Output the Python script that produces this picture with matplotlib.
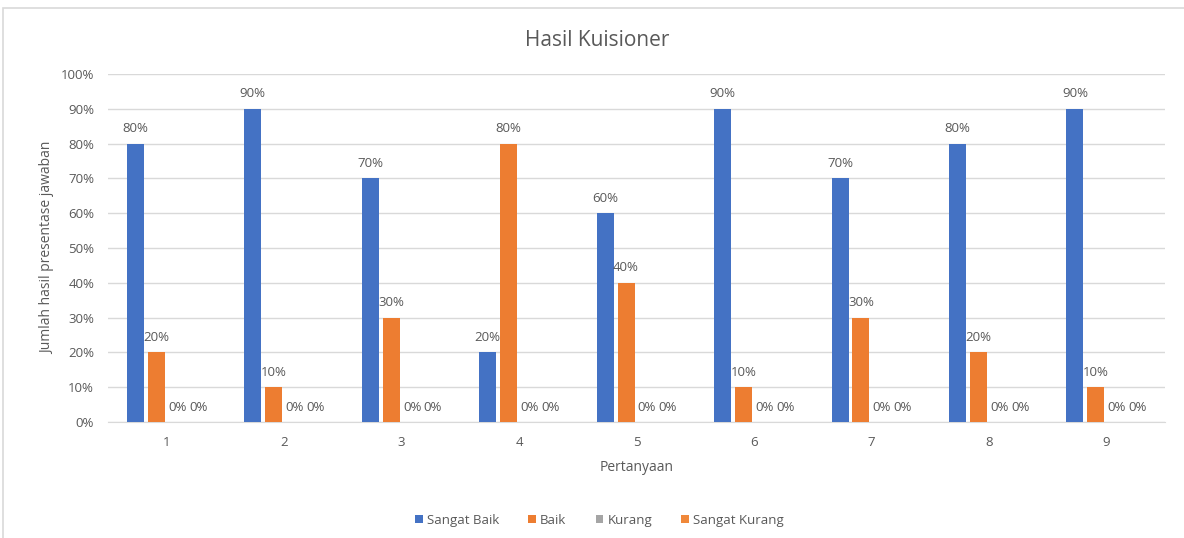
import numpy as np
import matplotlib.pyplot as plt
from matplotlib.patches import Rectangle

plt.rcParams['font.family'] = ['Open Sans', 'DejaVu Sans']

questions = ['1', '2', '3', '4', '5', '6', '7', '8', '9']
sangat_baik = [80, 90, 70, 20, 60, 90, 70, 80, 90]
baik = [20, 10, 30, 80, 40, 10, 30, 20, 10]
kurang = [0, 0, 0, 0, 0, 0, 0, 0, 0]
sangat_kurang = [0, 0, 0, 0, 0, 0, 0, 0, 0]

series = [
    ('Sangat Baik', sangat_baik, '#4472C4'),
    ('Baik', baik, '#ED7D31'),
    ('Kurang', kurang, '#A5A5A5'),
    ('Sangat Kurang', sangat_kurang, '#F0883A'),
]

txt = '#595959'
fig = plt.figure(figsize=(11.84, 5.38), dpi=100)
# chart frame
fig.patches.append(Rectangle((3 / 1184, -0.01), 1.0, 1 - 8 / 538 + 0.01,
                             transform=fig.transFigure, fill=False,
                             edgecolor='#D9D9D9', linewidth=1.2))
ax = fig.add_axes([108 / 1184, 1 - 422 / 538, (1165 - 108) / 1184, (422 - 74) / 538])

x = np.arange(len(questions))
w = 0.145
pitch = 0.178
for i, (name, vals, col) in enumerate(series):
    pos = x + (i - 1.5) * pitch
    bars = ax.bar(pos, vals, width=w, color=col, label=name, zorder=3)
    for p, v in zip(pos, vals):
        ax.annotate(f'{v}%', (p, v), xytext=(0, 6), textcoords='offset points',
                    ha='center', va='bottom', fontsize=9.5, color=txt)

ax.set_xlim(-0.5, len(questions) - 0.5)
ax.set_ylim(0, 100)
ax.set_yticks(np.arange(0, 101, 10))
ax.set_yticklabels([f'{t}%' for t in range(0, 101, 10)])
ax.set_xticks(x)
ax.set_xticklabels(questions)
ax.tick_params(axis='both', length=0, labelsize=9.5, colors=txt)
ax.tick_params(axis='y', pad=10)
ax.tick_params(axis='x', pad=10)
ax.grid(axis='y', color='#D9D9D9', linewidth=1, zorder=0)
for s in ['top', 'right', 'left']:
    ax.spines[s].set_visible(False)
ax.spines['bottom'].set_color('#D9D9D9')

fig.text(597 / 1184, 1 - 40 / 538, 'Hasil Kuisioner', fontsize=15, color=txt,
         ha='center', va='center')
ax.set_xlabel('Pertanyaan', fontsize=10, color=txt, labelpad=8)
ax.set_ylabel('Jumlah hasil presentase jawaban', fontsize=10, color=txt, labelpad=4)

ax.legend(loc='upper center', bbox_to_anchor=(0.465, -0.23), ncol=4, frameon=False,
          fontsize=9.5, labelcolor=txt, handlelength=0.6, handleheight=0.6,
          handletextpad=0.3, columnspacing=2.2)

fig.savefig('out.png', dpi=100)
